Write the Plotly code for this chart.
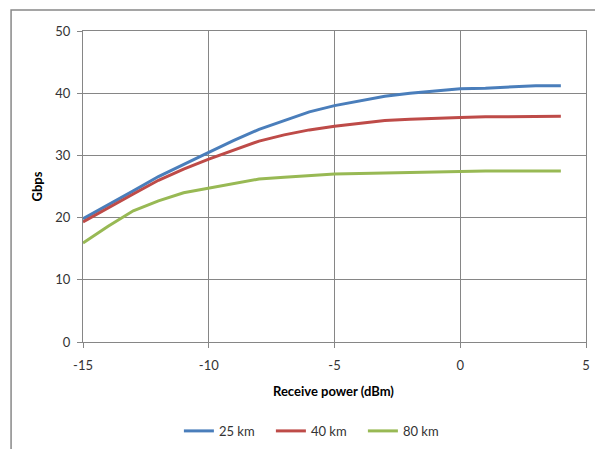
import plotly.graph_objects as go

x_dbm = [-15, -14, -13, -12, -11, -10, -9, -8, -7, -6, -5, -4, -3, -2, -1, 0, 1, 2, 3, 4]
gbps_25km = [19.8, 22.0, 24.3, 26.6, 28.6, 30.5, 32.4, 34.2, 35.6, 37.0, 38.0, 38.7, 39.5, 40.0, 40.4, 40.7, 40.8, 41.0, 41.2, 41.2]
gbps_40km = [19.3, 21.6, 23.8, 26.0, 27.8, 29.4, 30.9, 32.3, 33.3, 34.1, 34.7, 35.2, 35.6, 35.8, 36.0, 36.1, 36.2, 36.2, 36.3, 36.3]
gbps_80km = [15.9, 18.6, 21.1, 22.7, 24.0, 24.7, 25.5, 26.2, 26.5, 26.8, 27.0, 27.1, 27.2, 27.3, 27.4, 27.5, 27.5, 27.5, 27.5, 27.5]
series_names = ["25 km", "40 km", "80 km"]
colors = ["#4A7EBB", "#BE4B48", "#98B954"]
x_ticks = [-15, -10, -5, 0, 5]
x_tick_labels = ["-15", "-10", "-5", "0", "5"]
y_ticks = [0, 10, 20, 30, 40, 50]

FONT = "Lato"
fig = go.Figure()
for name, ys, c in zip(series_names, [gbps_25km, gbps_40km, gbps_80km], colors):
    fig.add_trace(go.Scatter(x=x_dbm, y=ys, mode="lines", name=name,
                             line=dict(color=c, width=3)))

axis_common = dict(showline=True, linecolor="#868686", linewidth=1,
                   showgrid=True, gridcolor="#868686", gridwidth=1,
                   ticks="outside", ticklen=5, tickcolor="#868686",
                   zeroline=False, automargin=False, ticklabeloverflow="allow",
                   tickfont=dict(family=FONT, size=13, color="#333333"))
fig.update_xaxes(range=[-15, 5], tickvals=x_ticks, ticktext=x_tick_labels, mirror=True,
                 ticklabelstandoff=6, **axis_common)
fig.update_yaxes(range=[0, 50], tickvals=y_ticks, mirror=True,
                 ticklabelstandoff=4, **axis_common)

fig.update_layout(
    width=595, height=449,
    margin=dict(l=83, r=9, t=31, b=107, autoexpand=False),
    paper_bgcolor="white", plot_bgcolor="white",
    font=dict(family=FONT, size=13, color="#333333"),
    showlegend=True,
    legend=dict(orientation="h", x=0.465, xanchor="center", y=-0.286, yanchor="middle",
                font=dict(family=FONT, size=13, color="#333333"),
                itemwidth=30, entrywidth=47),
    annotations=[
        dict(text="<b>Receive power (dBm)</b>", xref="paper", yref="paper",
             x=0.499, y=-0.158, xanchor="center", yanchor="middle", showarrow=False,
             font=dict(family=FONT, size=13, color="#000000")),
        dict(text="<b>Gbps</b>", xref="paper", yref="paper", textangle=-90,
             x=-0.0934, y=0.5, xanchor="center", yanchor="middle", showarrow=False,
             font=dict(family=FONT, size=13, color="#000000")),
    ],
    shapes=[dict(type="rect", xref="paper", yref="paper",
                 x0=-0.143, y0=-2, x1=2, y1=1.0675,
                 line=dict(color="#888888", width=1.5), fillcolor="rgba(0,0,0,0)", layer="below")],
)
fig.write_html("out.html", config={"displayModeBar": False},
               post_script="document.body.style.margin='0';document.body.style.overflow='hidden';")
